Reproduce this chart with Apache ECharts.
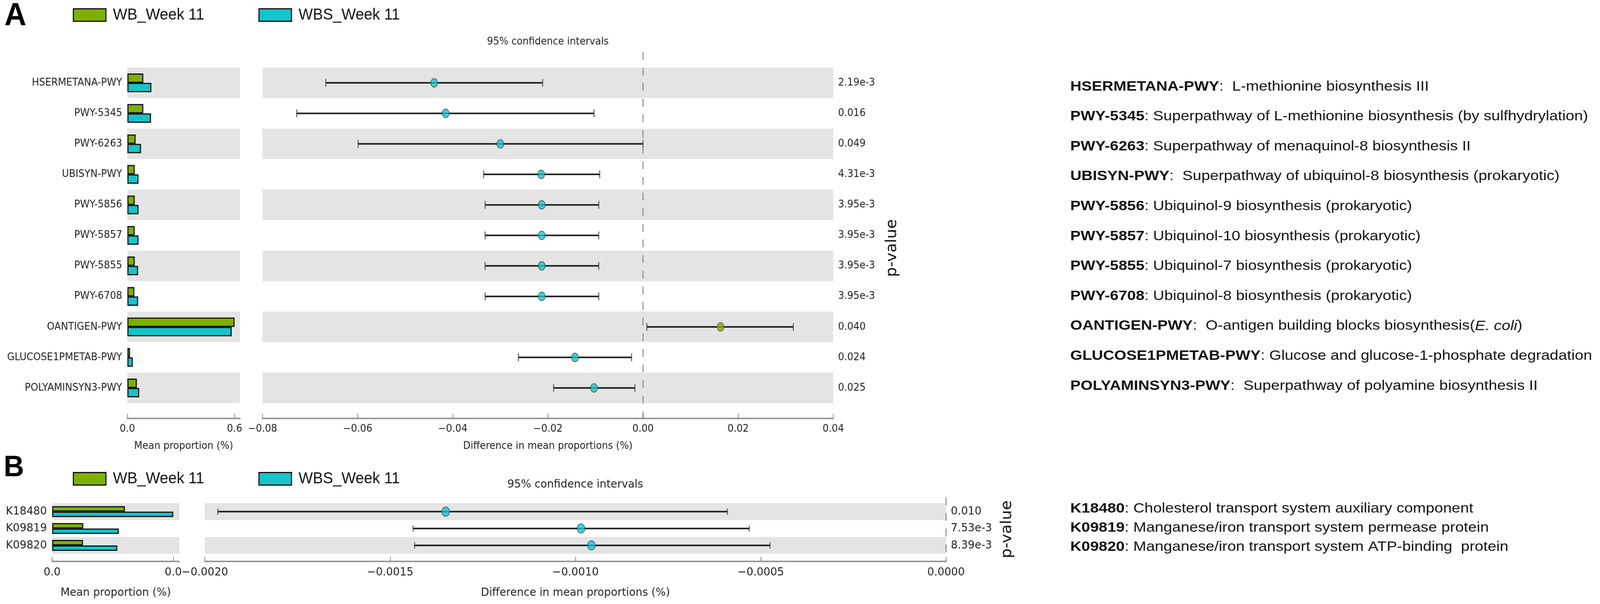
<!DOCTYPE html>
<html><head><meta charset="utf-8">
<script src="https://cdn.jsdelivr.net/npm/echarts@6/dist/echarts.min.js"></script>
<style>html,body{margin:0;padding:0;background:#fff;overflow:hidden}#c{width:4328px;height:1546px;transform-origin:0 0}</style>
</head><body><div id="c"></div>
<script>
// ---------- data ----------
const groupNames = ['WB_Week 11', 'WBS_Week 11'];

const pathways = ['HSERMETANA-PWY','PWY-5345','PWY-6263','UBISYN-PWY','PWY-5856','PWY-5857','PWY-5855','PWY-6708','OANTIGEN-PWY','GLUCOSE1PMETAB-PWY','POLYAMINSYN3-PWY'];
const pathwayWB  = [0.089, 0.089, 0.046, 0.041, 0.041, 0.041, 0.041, 0.039, 0.598, 0.015, 0.053];
const pathwayWBS = [0.134, 0.132, 0.076, 0.062, 0.062, 0.062, 0.060, 0.060, 0.582, 0.030, 0.066];
const pathwayDiff = [-0.0439, -0.0415, -0.0300, -0.0214, -0.0213, -0.0213, -0.0213, -0.0213, 0.0163, -0.0143, -0.0103];
const pathwayLow  = [-0.0667, -0.0728, -0.0599, -0.0335, -0.0332, -0.0332, -0.0332, -0.0332, 0.0008, -0.0262, -0.0188];
const pathwayHigh = [-0.0211, -0.0103, 0.0000, -0.0091, -0.0093, -0.0093, -0.0093, -0.0093, 0.0316, -0.0024, -0.0017];
const pathwayP = ['2.19e-3','0.016','0.049','4.31e-3','3.95e-3','3.95e-3','3.95e-3','3.95e-3','0.040','0.024','0.025'];
const pathwayDesc = [
  ' L-methionine biosynthesis III',
  'Superpathway of L-methionine biosynthesis (by sulfhydrylation)',
  'Superpathway of menaquinol-8 biosynthesis II',
  ' Superpathway of ubiquinol-8 biosynthesis (prokaryotic)',
  'Ubiquinol-9 biosynthesis (prokaryotic)',
  'Ubiquinol-10 biosynthesis (prokaryotic)',
  'Ubiquinol-7 biosynthesis (prokaryotic)',
  'Ubiquinol-8 biosynthesis (prokaryotic)',
  ' O-antigen building blocks biosynthesis(*E. coli*)',
  'Glucose and glucose-1-phosphate degradation',
  ' Superpathway of polyamine biosynthesis II'
];
const diffTicksA = [-0.08, -0.06, -0.04, -0.02, 0.00, 0.02, 0.04];

const kos = ['K18480','K09819','K09820'];
const koWB  = [0.00203, 0.00087, 0.00086];
const koWBS = [0.00338, 0.00186, 0.00182];
const koDiff = [-0.00135, -0.000985, -0.000957];
const koLow  = [-0.001965, -0.001438, -0.001434];
const koHigh = [-0.00059, -0.000531, -0.000475];
const koP = ['0.010','7.53e-3','8.39e-3'];
const koDesc = [
  'Cholesterol transport system auxiliary component',
  'Manganese/iron transport system permease protein',
  'Manganese/iron transport system ATP-binding  protein'
];
const diffTicksB = [-0.0020, -0.0015, -0.0010, -0.0005, 0.0000];

// ---------- style ----------
const GREEN = '#7fb000', TEAL = '#14c4cb', BAND = '#e4e4e4';
const SANS = 'DejaVu Sans', ARIAL = 'Liberation Sans';
const TXT = '#222';

const maxA = Math.max(...pathwayWB, ...pathwayWBS);
const maxB = Math.max(...koWB, ...koWBS);

function fmtSigned(v, d) {
  const r = Number(v.toFixed(d + 2));
  const s = Math.abs(r).toFixed(d);
  return (r < 0 && Number(s) !== 0 ? '\u2212' : '') + s;
}

function catAxis(gridIndex, data, showLabels, fs) {
  return {
    type: 'category', gridIndex, data, inverse: true,
    axisLine: {show: false}, axisTick: {show: false},
    axisLabel: {show: showLabels, interval: 0, fontSize: fs, fontFamily: SANS, color: TXT, margin: 14},
    splitLine: {show: false},
    splitArea: {show: true, interval: 0, areaStyle: {color: [BAND, 'rgba(255,255,255,0)']}}
  };
}
function pAxis(gridIndex, data, pv, fs) {
  return {
    type: 'category', gridIndex, data, inverse: true, position: 'right',
    axisLine: {show: false}, axisTick: {show: false}, splitLine: {show: false}, splitArea: {show: false},
    axisLabel: {interval: 0, formatter: (v, i) => pv[i], margin: 13, fontSize: fs, fontFamily: SANS, color: TXT}
  };
}
function barAxis(gridIndex, maxV, offset, fs, nameGap) {
  return {
    type: 'value', gridIndex, min: 0, max: maxV * 1.05, position: 'bottom', offset,
    axisLine: {show: true, lineStyle: {color: '#999', width: 4}},
    axisTick: {show: true, inside: true, length: 12, customValues: [0, maxV], lineStyle: {color: '#888', width: 2}},
    axisLabel: {customValues: [0, maxV], formatter: v => v.toFixed(1), fontSize: fs, fontFamily: SANS, color: TXT, margin: 14},
    splitLine: {show: false},
    name: 'Mean proportion (%)', nameLocation: 'middle', nameGap,
    nameTextStyle: {fontSize: fs, fontFamily: SANS, color: TXT}
  };
}
function diffAxis(gridIndex, ticks, dec, offset, fs, nameGap) {
  return {
    type: 'value', gridIndex, min: ticks[0], max: ticks[ticks.length - 1],
    interval: ticks[1] - ticks[0], position: 'bottom', offset,
    axisLine: {show: true, lineStyle: {color: '#999', width: 4}},
    axisTick: {show: true, inside: true, length: 12, lineStyle: {color: '#888', width: 2}},
    axisLabel: {formatter: v => fmtSigned(v, dec), fontSize: fs, fontFamily: SANS, color: TXT, margin: 14,
                showMinLabel: true, showMaxLabel: true},
    splitLine: {show: false},
    name: 'Difference in mean proportions (%)', nameLocation: 'middle', nameGap,
    nameTextStyle: {fontSize: fs, fontFamily: SANS, color: TXT}
  };
}
function barSeries(name, color, xi, yi, vals, bw) {
  return {
    type: 'bar', name, xAxisIndex: xi, yAxisIndex: yi, data: vals,
    barWidth: bw, barGap: '0%',
    itemStyle: {color, borderColor: '#111', borderWidth: 3},
    silent: true, z: 3
  };
}
function zeroLine(xi, yi, topExt, botExt) {
  return {
    type: 'custom', xAxisIndex: xi, yAxisIndex: yi, data: [[0]], encode: {x: 0}, silent: true, z: 2,
    renderItem(params, api) {
      const cs = params.coordSys;
      const x = api.coord([api.value(0), 0])[0];
      return {type: 'line', shape: {x1: x, y1: cs.y - topExt, x2: x, y2: cs.y + cs.height + botExt},
              style: {stroke: '#666', lineWidth: 2, lineDash: [20, 20]}};
    }
  };
}
function errorBars(xi, yi, lo, hi, cap) {
  return {
    type: 'custom', xAxisIndex: xi, yAxisIndex: yi, silent: true, z: 4,
    data: lo.map((v, i) => [i, v, hi[i]]), encode: {y: 0, x: [1, 2]},
    renderItem(params, api) {
      const r = api.value(0);
      const a = api.coord([api.value(1), r]);
      const b = api.coord([api.value(2), r]);
      return {type: 'group', children: [
        {type: 'line', shape: {x1: a[0], y1: a[1], x2: b[0], y2: b[1]}, style: {stroke: '#1e1e1e', lineWidth: 4}},
        {type: 'line', shape: {x1: a[0], y1: a[1] - cap, x2: a[0], y2: a[1] + cap}, style: {stroke: '#333', lineWidth: 2}},
        {type: 'line', shape: {x1: b[0], y1: b[1] - cap, x2: b[0], y2: b[1] + cap}, style: {stroke: '#333', lineWidth: 2}}
      ]};
    }
  };
}
function points(xi, yi, diffs, size) {
  return {
    type: 'scatter', xAxisIndex: xi, yAxisIndex: yi, symbol: 'circle', symbolSize: size, z: 5, silent: true,
    data: diffs.map((d, i) => ({value: [d, i], itemStyle: {color: d > 0 ? GREEN : TEAL}})),
    itemStyle: {borderColor: '#1f3535', borderWidth: 1.5}
  };
}
function richDesc(id, desc) {
  const body = desc.replace(/\*(.+?)\*/g, '}{i|$1}{n|');
  return '{b|' + id + '}{n|: ' + body + '}';
}
const richStyles = {
  b: {fontSize: 35, fontFamily: ARIAL, fontWeight: 'bold', fill: '#111'},
  n: {fontSize: 35, fontFamily: ARIAL, fill: '#111'},
  i: {fontSize: 35, fontFamily: ARIAL, fontStyle: 'italic', fill: '#111'}
};
function descText(id, desc, y) {
  return {type: 'text', x: 2895, y, scaleX: 1.2, silent: true,
          style: {text: richDesc(id, desc), rich: richStyles, fontSize: 35, fontFamily: ARIAL, fill: '#111', verticalAlign: 'middle'}};
}
function legendItem(name, left, top) {
  return {data: [name], left, top, icon: 'rect', itemWidth: 88, itemHeight: 32, selectedMode: false,
          itemStyle: {borderColor: '#111', borderWidth: 3},
          textStyle: {fontSize: 41, fontFamily: ARIAL, color: '#111', padding: [0, 0, 0, 14]}};
}

const graphics = [];
pathways.forEach((id, i) => graphics.push(descText(id, pathwayDesc[i], 222 + i * 76.6)));
kos.forEach((id, i) => graphics.push(descText(id, koDesc[i], 1302 + i * 49)));
graphics.push({type: 'text', x: 1482, y: 107, silent: true,
  style: {text: '95% confidence intervals', fontSize: 26, fontFamily: SANS, fill: TXT, align: 'center', verticalAlign: 'middle'}});
graphics.push({type: 'text', x: 1556, y: 1240, silent: true,
  style: {text: '95% confidence intervals', fontSize: 29, fontFamily: SANS, fill: TXT, align: 'center', verticalAlign: 'middle'}});
graphics.push({type: 'text', x: 2414, y: 635, rotation: Math.PI / 2, silent: true,
  style: {text: 'p-value', fontSize: 40, fontFamily: SANS, fill: '#111', align: 'center', verticalAlign: 'middle'}});
graphics.push({type: 'text', x: 2725, y: 1355, rotation: Math.PI / 2, silent: true,
  style: {text: 'p-value', fontSize: 40, fontFamily: SANS, fill: '#111', align: 'center', verticalAlign: 'middle'}});

const option = {
  backgroundColor: '#fff',
  animation: false,
  title: [
    {text: 'A', left: 12, top: 0, padding: 0, textStyle: {fontSize: 82, fontWeight: 'bold', fontFamily: ARIAL, color: '#000'}},
    {text: 'B', left: 10, top: 1160, padding: 0, textStyle: {fontSize: 76, fontWeight: 'bold', fontFamily: ARIAL, color: '#000'}}
  ],
  legend: [
    legendItem(groupNames[0], 192, 13), legendItem(groupNames[1], 694, 13),
    legendItem(groupNames[0], 192, 1200), legendItem(groupNames[1], 694, 1200)
  ],
  grid: [
    {left: 344.5, top: 173, width: 304.5, height: 859},
    {left: 710, top: 173, width: 1544, height: 859},
    {left: 141, top: 1288, width: 344, height: 129.6},
    {left: 554, top: 1288, width: 2005, height: 129.6}
  ],
  xAxis: [
    barAxis(0, maxA, 39, 26, 58),
    diffAxis(1, diffTicksA, 2, 39, 26, 58),
    barAxis(2, maxB, 19.5, 29, 66),
    diffAxis(3, diffTicksB, 4, 19.5, 29, 66)
  ],
  yAxis: [
    catAxis(0, pathways, true, 26),
    catAxis(1, pathways, false, 26),
    pAxis(1, pathways, pathwayP, 26),
    catAxis(2, kos, true, 29),
    catAxis(3, kos, false, 29),
    pAxis(3, kos, koP, 29)
  ],
  series: [
    barSeries(groupNames[0], GREEN, 0, 0, pathwayWB, 24),
    barSeries(groupNames[1], TEAL, 0, 0, pathwayWBS, 24),
    zeroLine(1, 1, 40, 39),
    errorBars(1, 1, pathwayLow, pathwayHigh, 10),
    points(1, 1, pathwayDiff, [19, 22]),
    barSeries(groupNames[0], GREEN, 2, 3, koWB, 14),
    barSeries(groupNames[1], TEAL, 2, 3, koWBS, 14),
    zeroLine(3, 4, 15, 19.5),
    errorBars(3, 4, koLow, koHigh, 8),
    points(3, 4, koDiff, [21, 24])
  ],
  graphic: graphics
};

// The window may be narrower than the 4328 px design; fit each direction separately.
const W = 4328, H = 1546;
const fx = Math.min(1, (window.innerWidth || W) / W);
const fy = Math.min(1, (window.innerHeight || H) / H);
const el = document.getElementById('c');
if (fx < 0.999 || fy < 0.999) el.style.transform = 'scale(' + fx + ',' + fy + ')';
const chart = echarts.init(el, null, {renderer: 'canvas', devicePixelRatio: 1});
chart.setOption(option);
</script>
</body></html>
